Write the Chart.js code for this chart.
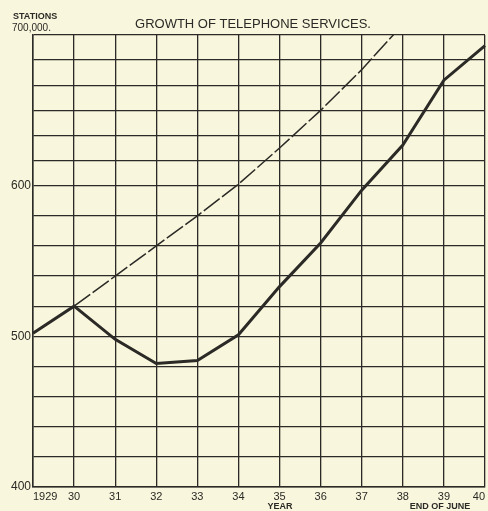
<!DOCTYPE html>
<html>
<head>
<meta charset="utf-8">
<script src="https://cdn.jsdelivr.net/npm/chart.js@4/dist/chart.umd.min.js"></script>
<style>
  html, body { margin: 0; padding: 0; background: #f8f6dc; }
  #wrap { width: 488px; height: 511px; position: relative; }
</style>
</head>
<body>
<div id="wrap"><canvas id="c" width="488" height="511"></canvas></div>
<script>
// ---- data ----
const years = ['1929', '30', '31', '32', '33', '34', '35', '36', '37', '38', '39', '40'];
const actualStations = [502, 520, 498, 482, 484, 501, 533, 562, 597, 627, 670, 693];
const trendStations = [null, 520, 540, 560, 580, 601, 625, 650, 677, 707, null, null];
const yGridValues = [400, 420, 440, 460, 480, 500, 520, 540, 560, 580, 600,
                     616.67, 633.33, 650, 666.67, 683.33, 700];
const yLabelValues = [400, 500, 600];

const ink = '#2b2a26';
const serif = '"Liberation Sans Narrow", "Liberation Sans", Arial, sans-serif';

const textPlugin = {
  id: 'texts',
  afterDraw(chart) {
    const ctx = chart.ctx;
    ctx.save();
    ctx.fillStyle = ink;
    ctx.textBaseline = 'alphabetic';
    ctx.textAlign = 'left';
    ctx.font = 'bold 9px ' + serif;
    ctx.fillText('STATIONS', 13, 19);
    ctx.font = '10px ' + serif;
    ctx.fillText('700,000.', 12, 31);
    ctx.textAlign = 'center';
    ctx.font = '13px ' + serif;
    ctx.fillText('GROWTH OF TELEPHONE SERVICES.', 253, 28);
    ctx.font = 'bold 9px ' + serif;
    ctx.fillText('YEAR', 280, 509);
    ctx.fillText('END OF JUNE', 440, 509);
    ctx.restore();
  }
};

new Chart(document.getElementById('c'), {
  type: 'line',
  data: {
    labels: years,
    datasets: [
      {
        label: 'Stations',
        data: actualStations,
        borderColor: ink,
        borderWidth: 3,
        pointRadius: 0,
        tension: 0,
        fill: false
      },
      {
        label: 'Trend',
        data: trendStations,
        borderColor: ink,
        borderWidth: 1.5,
        borderDash: [20, 3],
        pointRadius: 0,
        tension: 0,
        fill: false,
        spanGaps: false
      }
    ]
  },
  options: {
    responsive: false,
    animation: false,
    devicePixelRatio: 1,
    layout: { padding: { top: 35, right: 1, left: 0, bottom: 0 } },
    plugins: {
      legend: { display: false },
      tooltip: { enabled: false },
      title: { display: false }
    },
    scales: {
      x: {
        type: 'category',
        offset: false,
        grid: { color: ink, lineWidth: 1.3, drawTicks: false },
        border: { color: ink, width: 1.5 },
        ticks: {
          color: ink,
          font: { family: serif, size: 11 },
          padding: 3,
          autoSkip: false,
          maxRotation: 0,
          align: 'inner'
        },
        afterFit(scale) { scale.height = 24; }
      },
      y: {
        type: 'linear',
        min: 400,
        max: 700,
        grid: { color: ink, lineWidth: 1.3, drawTicks: false },
        border: { color: ink, width: 1.5 },
        afterBuildTicks(scale) {
          scale.ticks = yGridValues.map(v => ({ value: v }));
        },
        ticks: {
          color: ink,
          font: { family: serif, size: 12 },
          padding: 2,
          autoSkip: false,
          callback(v) {
            return yLabelValues.some(l => Math.abs(l - v) < 0.01) ? String(Math.round(v)) : '';
          }
        },
        afterFit(scale) { scale.width = 33; }
      }
    }
  },
  plugins: [textPlugin]
});
</script>
</body>
</html>
